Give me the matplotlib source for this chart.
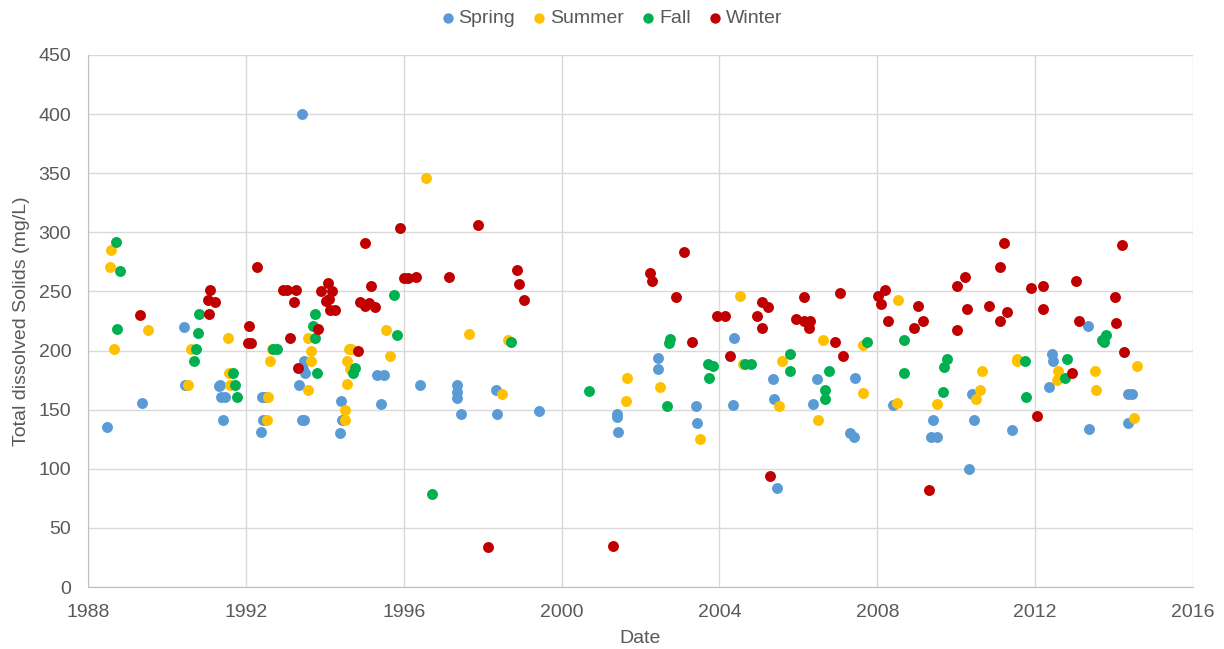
import matplotlib
matplotlib.use('Agg')
import matplotlib.pyplot as plt
import numpy as np

plt.rcParams['font.family'] = ['Liberation Sans', 'DejaVu Sans']

# 季節ごとのデータ（年は小数表記、TDS mg/L）
spring_year = [1988.48, 1989.37, 1990.43, 1990.45, 1991.32, 1991.34, 1991.38, 1991.47, 1991.43,
               1992.38, 1992.40, 1992.48, 1992.44, 1993.34, 1993.41, 1993.47, 1993.42,
               1993.48, 1993.46, 1993.50, 1994.38, 1994.42, 1994.44, 1995.33, 1995.49, 1995.42,
               1996.41, 1997.36, 1997.36, 1997.36, 1997.44, 1998.35, 1998.36, 1999.43,
               2001.40, 2001.41, 2001.44, 2002.44, 2002.45, 2003.41, 2003.44, 2004.35, 2004.37,
               2005.36, 2005.38, 2005.47, 2006.36, 2006.46, 2007.31, 2007.42, 2007.44,
               2008.41, 2009.40, 2009.37, 2009.52, 2010.33, 2010.40, 2010.46, 2011.42,
               2012.34, 2012.42, 2012.44, 2013.35, 2013.37, 2014.35, 2014.36, 2014.46]
spring_tds = [135, 156, 220, 171, 170, 171, 161, 161, 141,
              131, 161, 161, 141, 171, 141, 141, 400,
              191, 184, 181, 130, 157, 141, 179, 179, 155,
              171, 171, 165, 160, 146, 167, 146, 149,
              146, 144, 131, 194, 184, 153, 139, 154, 211,
              176, 159, 84, 155, 176, 130, 127, 177,
              154, 141, 127, 127, 100, 163, 141, 133,
              169, 197, 191, 221, 134, 139, 163, 163]

summer_year = [1988.58, 1988.56, 1988.66, 1989.53, 1990.54, 1990.61, 1991.54, 1991.57, 1991.60,
               1992.56, 1992.53, 1992.62, 1992.65, 1993.58, 1993.65, 1993.66, 1993.58,
               1994.62, 1994.67, 1994.56, 1994.65, 1994.56, 1994.51, 1994.51,
               1995.56, 1995.64, 1996.56, 1997.65, 1998.50, 1998.63,
               2001.64, 2001.65, 2002.50, 2003.51, 2004.51, 2004.59, 2005.58, 2005.52,
               2006.50, 2006.62, 2007.63, 2007.63, 2008.52, 2008.51, 2009.51,
               2010.51, 2010.61, 2010.65, 2011.53, 2011.53, 2012.56, 2012.57,
               2013.51, 2013.54, 2014.50, 2014.58]
summer_tds = [285, 271, 201, 217, 171, 201, 211, 181, 171,
              161, 141, 191, 201, 211, 200, 191, 167,
              201, 201, 191, 184, 172, 150, 141,
              217, 195, 346, 214, 163, 209,
              157, 177, 169, 125, 246, 189, 191, 153,
              141, 209, 205, 164, 243, 156, 155,
              159, 167, 183, 193, 191, 175, 183,
              183, 167, 143, 187]

fall_year = [1988.70, 1988.80, 1988.74, 1990.69, 1990.73, 1990.78, 1990.81,
             1991.67, 1991.72, 1991.78, 1992.69, 1992.78,
             1993.75, 1993.70, 1993.76, 1993.79, 1994.72, 1994.76,
             1995.75, 1995.82, 1996.72, 1998.73, 2000.69,
             2002.67, 2002.72, 2002.74, 2003.70, 2003.83, 2003.74, 2004.65, 2004.80,
             2005.78, 2005.79, 2006.68, 2006.68, 2006.78, 2007.74, 2008.68, 2008.68,
             2009.77, 2009.69, 2009.66, 2011.75, 2011.76, 2012.81, 2012.76,
             2013.79, 2013.69, 2013.75]
fall_tds = [292, 267, 218, 191, 201, 215, 231,
            181, 171, 161, 201, 201,
            231, 221, 211, 181, 181, 185,
            247, 213, 79, 207, 166,
            153, 206, 210, 189, 187, 177, 189, 189,
            197, 183, 167, 159, 183, 207, 209, 181,
            193, 186, 165, 191, 161, 193, 177,
            213, 209, 207]

winter_year = [1989.32, 1991.10, 1991.03, 1991.23, 1991.06, 1992.09, 1992.06, 1992.12, 1992.28,
               1992.94, 1993.05, 1993.28, 1993.22, 1993.11, 1993.32,
               1993.83, 1993.91, 1994.03, 1994.08, 1994.11, 1994.17, 1994.13, 1994.27,
               1994.83, 1994.90, 1995.02, 1995.11, 1995.17, 1995.27, 1995.03,
               1995.90, 1996.01, 1996.11, 1996.32, 1997.15, 1997.87, 1998.13,
               1998.87, 1998.92, 1999.06, 2001.31, 2002.23, 2002.29, 2002.91, 2003.09,
               2003.30, 2003.94, 2004.13, 2004.28, 2004.94, 2005.09, 2005.22, 2005.09, 2005.29,
               2005.94, 2006.13, 2006.30, 2006.26, 2006.13, 2007.06, 2006.94, 2007.13,
               2008.03, 2008.10, 2008.20, 2008.26, 2009.03, 2009.15, 2008.94, 2009.32,
               2010.01, 2010.02, 2010.22, 2010.27, 2010.84, 2011.10, 2011.11, 2011.22, 2011.29,
               2011.90, 2012.04, 2012.20, 2012.19, 2012.94, 2013.04, 2013.10,
               2014.03, 2014.06, 2014.21, 2014.26]
winter_tds = [230, 251, 243, 241, 231, 221, 206, 206, 271,
              251, 251, 251, 241, 211, 185,
              218, 250, 242, 257, 244, 250, 234, 234,
              200, 241, 238, 240, 255, 237, 291,
              304, 261, 261, 262, 262, 306, 34,
              268, 256, 243, 35, 266, 259, 245, 283,
              207, 229, 229, 195, 229, 241, 237, 219, 94,
              227, 225, 225, 219, 245, 249, 207, 195,
              246, 239, 251, 225, 238, 225, 219, 82,
              255, 217, 262, 235, 238, 271, 225, 291, 233,
              253, 145, 255, 235, 181, 259, 225,
              245, 223, 289, 199]

seasons = ['Spring', 'Summer', 'Fall', 'Winter']
colors = ['#5B9BD5', '#FFC000', '#00B050', '#C00000']
x_ticks = [1988, 1992, 1996, 2000, 2004, 2008, 2012, 2016]
y_ticks = [0, 50, 100, 150, 200, 250, 300, 350, 400, 450]

text_color = '#595959'
grid_color = '#D9D9D9'
fs = 14

fig = plt.figure(figsize=(12.24, 6.49), dpi=100)
ax = fig.add_axes([0.0719, 0.0955, 0.9028, 0.8198])

series = [(spring_year, spring_tds), (summer_year, summer_tds),
          (fall_year, fall_tds), (winter_year, winter_tds)]
for (yr, val), name, c in zip(series, seasons, colors):
    ax.scatter(yr, val, s=62, color=c, label=name, zorder=3, linewidths=0)

ax.set_xlim(1988, 2016)
ax.set_ylim(0, 450)
ax.set_xticks(x_ticks)
ax.set_yticks(y_ticks)
ax.grid(True, color=grid_color, linewidth=1.0, zorder=0)
ax.set_axisbelow(True)
for side in ['top', 'right']:
    ax.spines[side].set_visible(False)
for side in ['left', 'bottom']:
    ax.spines[side].set_color('#BFBFBF')
ax.tick_params(length=0, labelsize=fs, colors=text_color)
ax.tick_params(axis='x', pad=12)
ax.tick_params(axis='y', pad=12)
ax.set_xlabel('Date', fontsize=fs, color=text_color, labelpad=7)
ax.set_ylabel('Total dissolved Solids (mg/L)', fontsize=fs, color=text_color, labelpad=6)

leg = fig.legend(loc='upper center', bbox_to_anchor=(0.5, 1.012), ncol=4, frameon=False,
                 fontsize=fs, handlelength=0.6, handletextpad=0.25, columnspacing=0.95,
                 markerscale=0.95)
for t in leg.get_texts():
    t.set_color(text_color)

fig.savefig('out.png', dpi=100)
